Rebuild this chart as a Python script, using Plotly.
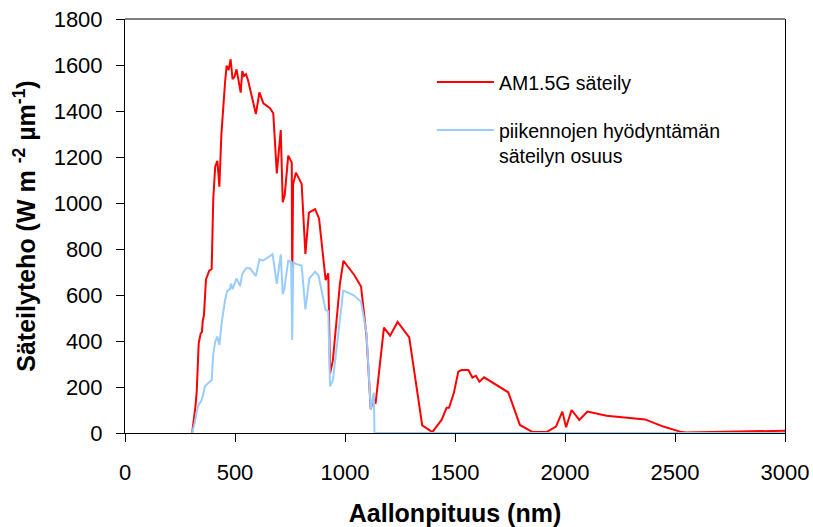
import plotly.graph_objects as go

# AM1.5G irradiance (nm, W m-2 um-1)
am_wl = [305, 314, 320, 326, 330, 335, 344, 350, 353, 359, 368, 383, 394, 401, 410, 420, 429, 438,
         455, 462, 471, 480, 489, 498, 507, 526, 533, 541, 550, 559, 595, 611, 629, 659, 674, 690,
         708, 717, 726, 742, 758, 760, 764, 777, 803, 820, 836, 864, 882, 912, 924, 932, 945, 977,
         993, 1042, 1073, 1098, 1117, 1129, 1139, 1159, 1177, 1205, 1239, 1292, 1351, 1397, 1439,
         1462, 1473, 1495, 1515, 1530, 1561, 1579, 1595, 1611, 1632, 1742, 1795, 1853, 1916, 1959,
         1988, 2005, 2030, 2065, 2102, 2189, 2364, 2447, 2523, 2550, 3000]
am_val = [0, 57, 114, 180, 252, 390, 433, 440, 484, 513, 668, 706, 713, 1013, 1158, 1183, 1071, 1296,
          1527, 1597, 1578, 1625, 1538, 1550, 1581, 1480, 1574, 1552, 1560, 1535, 1387, 1481, 1433,
          1412, 1390, 1129, 1317, 1003, 1035, 1206, 1176, 637, 1080, 1132, 1083, 778, 958, 973, 933,
          665, 694, 259, 317, 650, 749, 687, 637, 419, 103, 150, 128, 303, 458, 423, 483, 416, 33, 4,
          57, 110, 110, 175, 267, 274, 274, 241, 249, 223, 242, 177, 35, 4, 4, 28, 93, 25, 100, 57,
          93, 75, 59, 28, 6, 2, 10]

# Portion usable by the cells
use_wl = [305, 318, 329, 336, 345, 353, 364, 394, 401, 410, 419, 429, 439, 455, 465, 477, 482, 489,
          507, 523, 533, 550, 568, 595, 611, 626, 671, 690, 708, 717, 724, 742, 755, 760, 765, 777,
          803, 820, 838, 864, 879, 912, 924, 932, 945, 992, 1038, 1073, 1098, 1117, 1131, 1134, 3000]
use_val = [0, 49, 107, 126, 136, 158, 204, 230, 339, 397, 419, 383, 477, 578, 619, 625, 650, 625,
           672, 639, 691, 716, 716, 682, 755, 749, 777, 648, 777, 604, 625, 749, 746, 404, 743, 735,
           728, 538, 672, 701, 687, 535, 530, 203, 230, 619, 600, 571, 433, 103, 175, 0, 0]

x_ticks = [0, 500, 1000, 1500, 2000, 2500, 3000]
y_ticks = [0, 200, 400, 600, 800, 1000, 1200, 1400, 1600, 1800]

FONT = "Liberation Sans, Arial, sans-serif"

fig = go.Figure()
fig.add_trace(go.Scatter(x=am_wl, y=am_val, mode="lines", name="AM1.5G säteily",
                         line=dict(color="#FF0000", width=2), legend="legend", showlegend=True))
fig.add_trace(go.Scatter(x=use_wl, y=use_val, mode="lines",
                         name="piikennojen hyödyntämän<br>säteilyn osuus",
                         line=dict(color="#99CCFF", width=2), legend="legend2", showlegend=True))

axis_common = dict(showgrid=False, zeroline=False, showline=True, linecolor="black",
                   linewidth=1, ticks="outside", ticklen=8, tickcolor="black", automargin=False,
                   ticklabeloverflow="allow",
                   tickfont=dict(family=FONT, size=22, color="black"))

fig.update_layout(
    width=813, height=527,
    margin=dict(l=125, r=28, t=19, b=94, autoexpand=False),
    showlegend=True,
    paper_bgcolor="white", plot_bgcolor="white",
    font=dict(family=FONT, color="black"),
    xaxis=dict(range=[0, 3000], tickvals=x_ticks, ticklabelstandoff=12, **axis_common,
               title=dict(text="<b>Aallonpituus (nm)</b>", font=dict(family=FONT, size=25),
                          standoff=21)),
    yaxis=dict(range=[0, 1800], tickvals=y_ticks, mirror=True, ticklabelstandoff=9,
               **axis_common,
               title=dict(text="<b>Säteilyteho (W m <sup>-2</sup> µm<sup>-1</sup>)</b>",
                          font=dict(family=FONT, size=25), standoff=10)),
    legend=dict(x=0.465, y=0.894, xanchor="left", yanchor="top", bgcolor="rgba(0,0,0,0)",
                font=dict(family=FONT, size=19.5), itemwidth=57, valign="top"),
    legend2=dict(x=0.465, y=0.778, xanchor="left", yanchor="top", bgcolor="rgba(0,0,0,0)",
                 font=dict(family=FONT, size=19.5), itemwidth=57, valign="top"),
    # grey top frame line of the plot area
    shapes=[dict(type="line", xref="paper", yref="paper", x0=0, x1=1, y0=1, y1=1,
                 layer="above", line=dict(color="#808080", width=2))],
)

# remove the browser's default page margin so the figure fills the window exactly
fig.write_html("out.html", config={"displayModeBar": False, "staticPlot": True},
               post_script="document.body.style.margin='0';document.body.style.overflow='hidden';")
